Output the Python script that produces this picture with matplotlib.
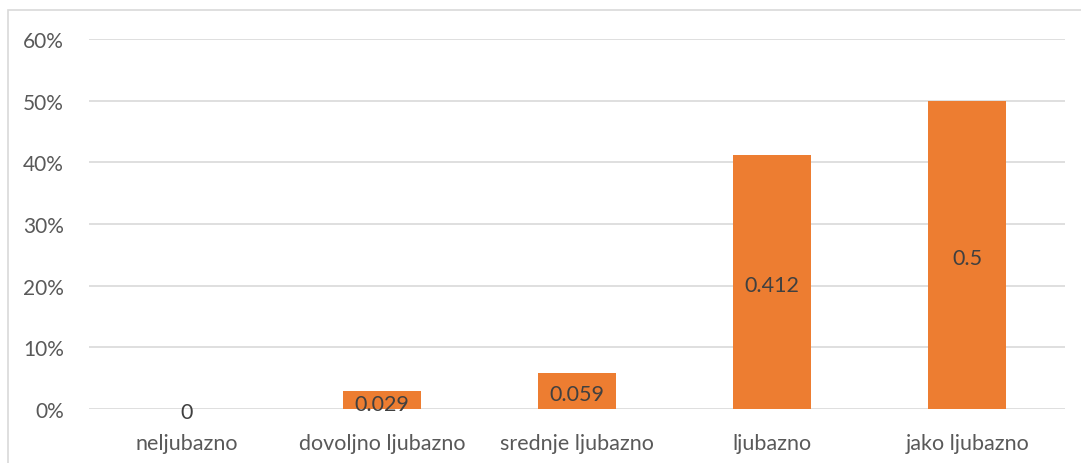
import matplotlib
matplotlib.use('Agg')
import matplotlib.pyplot as plt
from matplotlib.patches import Rectangle
from matplotlib.ticker import PercentFormatter

categories = ['neljubazno', 'dovoljno ljubazno', 'srednje ljubazno', 'ljubazno', 'jako ljubazno']
values = [0, 0.029, 0.059, 0.412, 0.5]
value_labels = ['0', '0.029', '0.059', '0.412', '0.5']
yticks = [0, 0.1, 0.2, 0.3, 0.4, 0.5, 0.6]

plt.rcParams['font.family'] = ['Lato', 'DejaVu Sans']

W, H = 1081, 464
fig = plt.figure(figsize=(W / 100, H / 100), dpi=100)

# chart border (Excel style)
fig.add_artist(Rectangle((8 / W, -0.1), 1.2, (H - 11) / H + 0.1, transform=fig.transFigure,
                         fill=False, edgecolor='#D9D9D9', linewidth=1.2))

ax = fig.add_axes([89 / W, (H - 410) / H, (1065 - 89) / W, 370 / H])
x = range(len(categories))
bars = ax.bar(x, values, width=0.4, color='#ED7D31', zorder=3)

ax.set_xlim(-0.5, len(categories) - 0.5)
ax.set_ylim(0, 0.6)
ax.set_yticks(yticks)
ax.yaxis.set_major_formatter(PercentFormatter(1.0, decimals=0))
ax.set_xticks(list(x))
ax.set_xticklabels(categories)
ax.grid(axis='y', color='#D9D9D9', linewidth=1.2, zorder=0)
for s in ax.spines.values():
    s.set_visible(False)
ax.tick_params(axis='both', length=0, colors='#595959')
ax.tick_params(axis='y', pad=18, labelsize=15)
ax.tick_params(axis='x', pad=17, labelsize=15.5)

# data labels centred in bars
for i, (v, lab) in enumerate(zip(values, value_labels)):
    ax.annotate(lab, (i, v / 2), xytext=(0, -2.5), textcoords='offset points',
                ha='center', va='center', fontsize=15.5, color='#404040', zorder=4)

fig.savefig('out.png', dpi=100)
